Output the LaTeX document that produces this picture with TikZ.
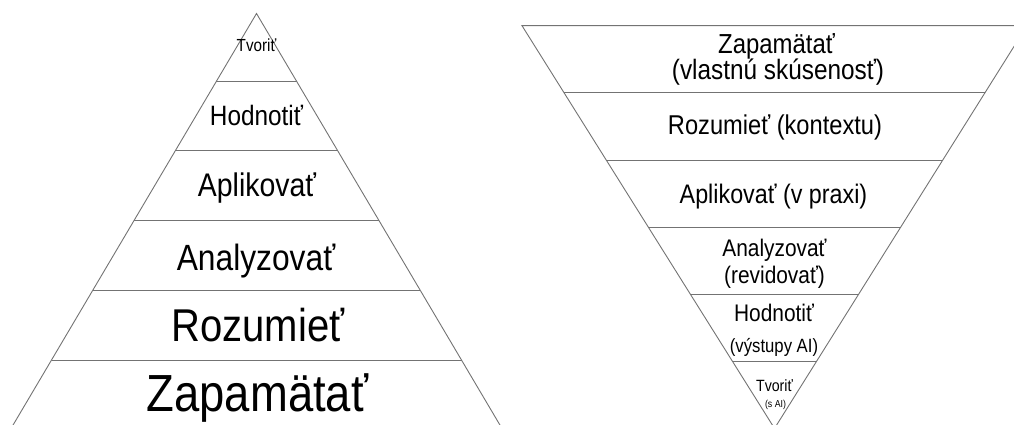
\documentclass[tikz,border=0pt]{standalone}
\usepackage{fontspec}
\setmainfont{Liberation Sans}
\newfontfamily\condfont[FakeStretch=0.87]{Liberation Sans}
\newcommand{\fsz}[1]{\fontsize{#1}{#1}\selectfont}
\begin{document}
\begin{tikzpicture}[x=1pt,y=-1pt,
  edge/.style={draw=black!55,line width=0.9pt},
  lbl/.style={anchor=base,inner sep=0pt,text=black,font=\condfont}]
\useasboundingbox (0,0) rectangle (1014,425);
\clip (0,0) rectangle (1014,425);

% ---- pyramid (upright) ----
\draw[edge] (4.2,440) -- (256.5,13.5) -- (508.8,440);
\draw[edge] (216.15,81.7) -- (296.85,81.7);
\draw[edge] (175.33,150.7) -- (337.67,150.7);
\draw[edge] (133.92,220.7) -- (379.08,220.7);
\draw[edge] (92.92,290) -- (420.08,290);
\draw[edge] (51.5,360) -- (461.5,360);

\node[lbl] (l1) at (256.5,51.7)  {\fsz{17.5}Tvoriť};
\node[lbl] (l2) at (256.5,125)   {\fsz{28}Hodnotiť};
\node[lbl] (l3) at (257,196.7)   {\fsz{32.7}Aplikovať};
\node[lbl] (l4) at (256,270)     {\fsz{36.5}Analyzovať};
\node[lbl] (l5) at (258,341.7)   {\fsz{46}Rozumieť};
\node[lbl] (l6) at (257.5,411.7) {\fsz{52.2}Zapamätať};

% ---- inverted pyramid ----
\draw[edge] (522.0,25.7) -- (1027.0,25.7) -- (774.5,428.4) -- cycle;
\draw[edge] (563.8,92.3) -- (985.2,92.3);
\draw[edge] (606.2,160) -- (942.8,160);
\draw[edge] (648.7,227.7) -- (900.3,227.7);
\draw[edge] (690.4,294.3) -- (858.6,294.3);
\draw[edge] (732.7,361.7) -- (816.3,361.7);

\node[lbl] (r1a) at (776.5,53.3)  {\fsz{27.5}Zapamätať};
\node[lbl] (r1b) at (778,80)      {\fsz{28}(vlastnú skúsenosť)};
\node[lbl] (r2)  at (775,135)     {\fsz{27.2}Rozumieť (kontextu)};
\node[lbl] (r3)  at (773.5,203.3) {\fsz{26.8}Aplikovať (v praxi)};
\node[lbl] (r4a) at (774.5,256.7) {\fsz{24}Analyzovať};
\node[lbl] (r4b) at (774.5,283.3) {\fsz{24}(revidovať)};
\node[lbl] (r5a) at (774,321.7)   {\fsz{24}Hodnotiť};
\node[lbl] (r5b) at (774,352.7)   {\fsz{19.2}(výstupy AI)};
\node[lbl] (r6a) at (774.5,391.7) {\fsz{16.3}Tvoriť};
\node[lbl] (r6b) at (775.5,407.5) {\fsz{10.1}(s AI)};
\end{tikzpicture}
\end{document}
